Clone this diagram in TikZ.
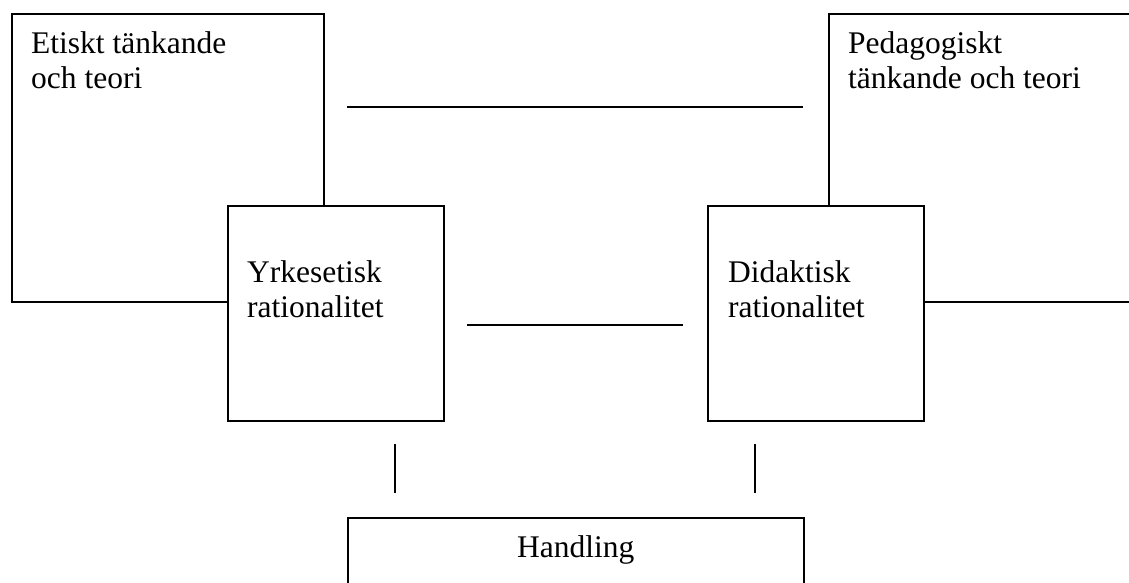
\documentclass[tikz,border=0pt]{standalone}
\usepackage{fontspec}
\setmainfont{Liberation Serif}
\usetikzlibrary{positioning}

\tikzset{
  frame/.style={draw, line width=1.7pt, fill=white, inner sep=0pt, anchor=north west},
  lbl/.style={inner sep=0pt, anchor=north west, align=left, font=\fontsize{31.5}{35}\selectfont},
  link/.style={line width=1.7pt}
}

\begin{document}
\begin{tikzpicture}
\begin{scope}[x=1pt, y=-1pt]
\useasboundingbox (0,0) rectangle (1129,583);
\clip (0,0) rectangle (1129,583);

% large boxes
\node[frame, minimum width=312pt, minimum height=288pt] (etik) at (11,13) {};
\node[lbl, below right=18.8pt and 20pt of etik.north west] (etiktxt) {Etiskt tänkande\\och teori};
\node[frame, minimum width=340pt, minimum height=288pt] (ped) at (828,13) {};
\node[lbl, below right=18.8pt and 20pt of ped.north west] (pedtxt) {Pedagogiskt\\tänkande och teori};

% rationality boxes
\node[frame, minimum width=216pt, minimum height=215pt] (yrke) at (227,205) {};
\node[lbl, below right=55.5pt and 20pt of yrke.north west] (yrketxt) {Yrkesetisk\\rationalitet};
\node[frame, minimum width=216pt, minimum height=215pt] (didak) at (707,205) {};
\node[lbl, below right=55.5pt and 21pt of didak.north west] (didaktxt) {Didaktisk\\rationalitet};

% action box
\node[frame, minimum width=456pt, minimum height=120pt] (handl) at (347,517) {};
\node[lbl, anchor=north, below=18.5pt of handl.north] (handltxt) {Handling};

% free lines
\coordinate (topL) at (347,107);
\coordinate (topR) at (803,107);
\coordinate (midL) at (467,325);
\coordinate (midR) at (683,325);
\coordinate (vLa) at (395,444);
\coordinate (vLb) at (395,493);
\coordinate (vRa) at (755,444);
\coordinate (vRb) at (755,493);

\draw[link](topL)--(topR);
\draw[link](midL)--(midR);
\draw[link](vLa)--(vLb);
\draw[link](vRa)--(vRb);

\end{scope}
\end{tikzpicture}
\end{document}
